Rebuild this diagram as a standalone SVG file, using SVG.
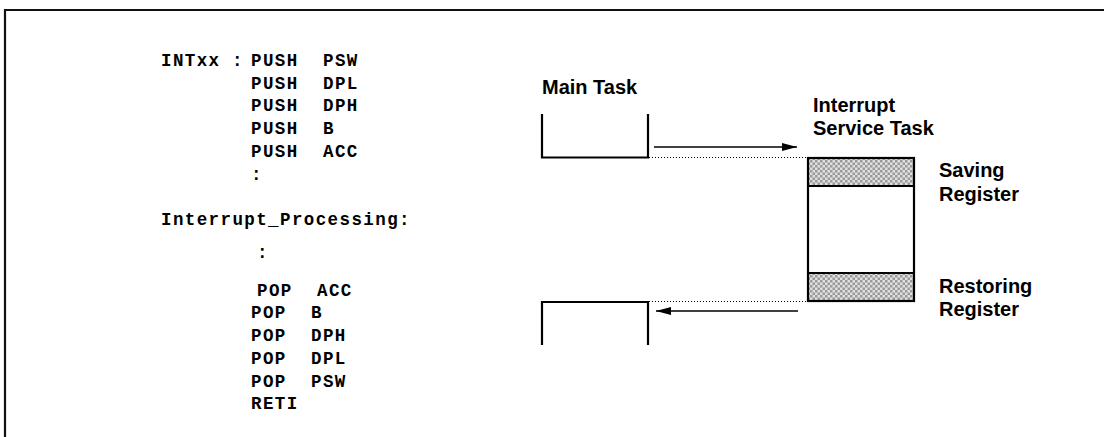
<svg xmlns="http://www.w3.org/2000/svg" width="1104" height="437" viewBox="0 0 1104 437">
<defs>
<pattern id="chk" width="5" height="5" patternUnits="userSpaceOnUse">
<rect width="5" height="5" fill="#e0e0e0"/>
<rect width="2.5" height="2.5" fill="#9a9a9a"/>
<rect x="2.5" y="2.5" width="2.5" height="2.5" fill="#9a9a9a"/>
</pattern>
<marker id="ah" markerWidth="16" markerHeight="10" refX="15" refY="5" orient="auto" markerUnits="userSpaceOnUse">
<path d="M0,1 L15,5 L0,9 Z" fill="#000"/>
</marker>
</defs>
<style>
.code{font-family:"Liberation Mono","Courier New",monospace;font-weight:bold;font-size:17.5px;letter-spacing:1.4px;fill:#000}
.lbl{font-family:"Liberation Sans",Arial,sans-serif;font-weight:bold;font-size:20px;fill:#000}
.box{fill:none;stroke:#000;stroke-width:2.2}
.dot{stroke:#000;stroke-width:1;stroke-dasharray:1 2;fill:none}
.arr{stroke:#000;stroke-width:1.6;fill:none}
</style>
<rect width="1104" height="437" fill="#fff"/>
<g id="frame">
<path d="M5,437 L5,10 L1104,10" fill="none" stroke="#111" stroke-width="2.2"/>
</g>
<g id="code">
<text class="code" x="161" y="66">INTxx</text>
<text class="code" x="232" y="66">:</text>
<text class="code" x="251" y="66">PUSH</text><text class="code" x="323" y="66">PSW</text>
<text class="code" x="251" y="89">PUSH</text><text class="code" x="323" y="89">DPL</text>
<text class="code" x="251" y="111">PUSH</text><text class="code" x="323" y="111">DPH</text>
<text class="code" x="251" y="134">PUSH</text><text class="code" x="323" y="134">B</text>
<text class="code" x="251" y="157">PUSH</text><text class="code" x="323" y="157">ACC</text>
<text class="code" x="251" y="180">:</text>
<text class="code" x="161" y="225">Interrupt_Processing:</text>
<text class="code" x="257" y="258">:</text>
<text class="code" x="257" y="296">POP</text><text class="code" x="317" y="296">ACC</text>
<text class="code" x="251" y="318">POP</text><text class="code" x="311" y="318">B</text>
<text class="code" x="251" y="341">POP</text><text class="code" x="311" y="341">DPH</text>
<text class="code" x="251" y="364">POP</text><text class="code" x="311" y="364">DPL</text>
<text class="code" x="251" y="387">POP</text><text class="code" x="311" y="387">PSW</text>
<text class="code" x="251" y="409">RETI</text>
</g>
<g id="main-task-top">
<text class="lbl" x="542" y="94">Main Task</text>
<path class="box" d="M542,114 L542,157.5 L648,157.5 L648,114"/>
</g>
<g id="main-task-bottom">
<path class="box" d="M542,345 L542,302 L648,302 L648,345"/>
</g>
<g id="isr">
<text class="lbl" x="813" y="112">Interrupt</text>
<text class="lbl" x="813" y="135">Service Task</text>
<rect x="808" y="158" width="106" height="28" fill="url(#chk)"/>
<rect x="808" y="273" width="106" height="28" fill="url(#chk)"/>
<rect class="box" x="808" y="158" width="106" height="143"/>
<line class="box" x1="808" y1="186" x2="914" y2="186"/>
<line class="box" x1="808" y1="273" x2="914" y2="273"/>
</g>
<g id="saving-label">
<text class="lbl" x="939" y="177">Saving</text>
<text class="lbl" x="939" y="201">Register</text>
</g>
<g id="restoring-label">
<text class="lbl" x="939" y="293">Restoring</text>
<text class="lbl" x="939" y="316">Register</text>
</g>
<g id="connectors">
<line class="dot" x1="649" y1="157.5" x2="808" y2="157.5"/>
<line class="dot" x1="649" y1="301.5" x2="808" y2="301.5"/>
<line class="arr" x1="654" y1="147" x2="797" y2="147" marker-end="url(#ah)"/>
<line class="arr" x1="798" y1="311" x2="656" y2="311" marker-end="url(#ah)"/>
</g>
</svg>
